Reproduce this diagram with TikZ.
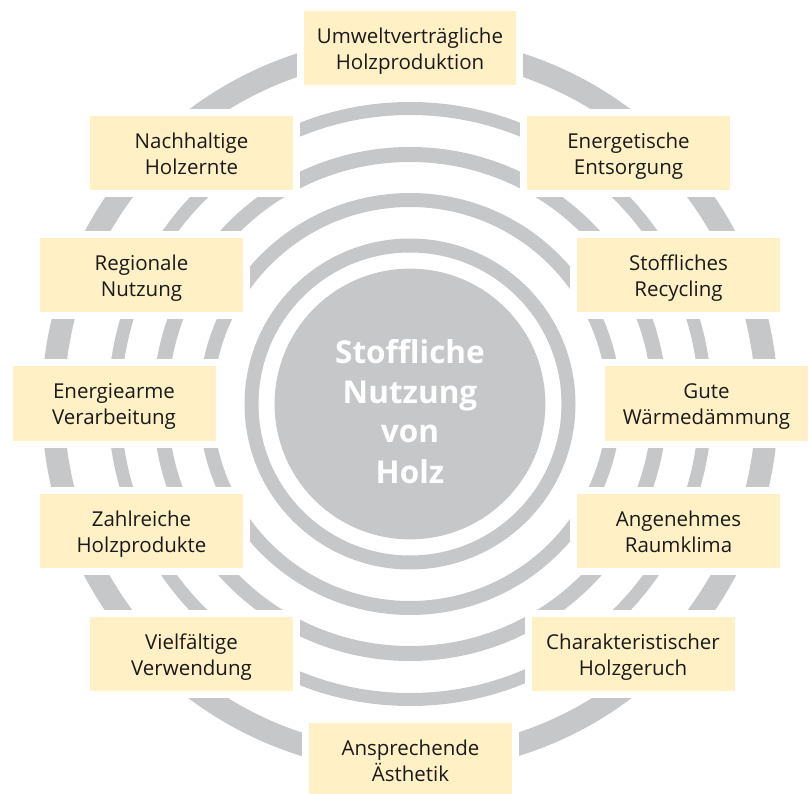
\documentclass[tikz,border=0pt]{standalone}
\usepackage{fontspec}
\setmainfont{Open Sans}
\usepackage{tikz}

\definecolor{ringgray}{RGB}{198,199,201}
\definecolor{boxyellow}{RGB}{255,240,197}
\definecolor{textblack}{RGB}{26,26,26}

\begin{document}
\begin{tikzpicture}[x=1pt,y=-1pt,
            ring/.style={draw=ringgray,line width=#1},
            hub/.style={circle,fill=ringgray,minimum size=226pt,inner sep=0pt,text=white,
              align=center,text width=220pt,text height=38pt,text depth=120pt,
              font=\fontsize{31.5}{40}\selectfont\bfseries},
            box/.style={fill=boxyellow,text=textblack,minimum width=203pt,minimum height=74pt,
              inner sep=0pt,align=center,text width=200pt,text height=17pt,text depth=26pt,
              font=\fontsize{20.5}{26}\selectfont,preaction={draw=white,line width=14pt}}
          ]
          \useasboundingbox (0,0) rectangle (809,794);

          %centre
          \node[hub] (hub) at (410,404) {Stoffliche\\Nutzung\\von\\Holz};

          %rings
          \draw[ring=14pt] (hub) circle[radius=158.5pt];
          \draw[ring=14pt] (hub) circle[radius=204pt];
          \draw[ring=15pt] (hub) circle[radius=249.5pt];
          \draw[ring=13pt] (hub) circle[radius=295.5pt];
          \draw[ring=22.5pt] (hub) circle[radius=357pt];

          %boxes, left column
          \node[box,minimum width=212pt] (umwelt) at (410,48) {Umweltverträgliche\\Holzproduktion};
          \node[box] (ernte) at (191.5,153) {Nachhaltige\\Holzernte};
          \node[box] (regional) at (141.5,275.5) {Regionale\\Nutzung};
          \node[box] (verarb) at (114,403.5) {Energiearme\\Verarbeitung};
          \node[box] (produkte) at (141.5,530.5) {Zahlreiche\\Holzprodukte};
          \node[box] (verwend) at (191.5,653.5) {Vielfältige\\Verwendung};
          \node[box] (aesthetik) at (410.5,760) {Ansprechende\\Ästhetik};

          %boxes, right column
          \node[box] (entsorg) at (628.5,153) {Energetische\\Entsorgung};
          \node[box] (recycl) at (678.5,275.5) {Stoffliches\\Recycling};
          \node[box] (daemm) at (706.5,403.5) {Gute\\Wärmedämmung};
          \node[box] (klima) at (678.5,530.5) {Angenehmes\\Raumklima};
          \node[box] (geruch) at (633,653.5) {Charakteristischer\\Holzgeruch};

      \end{tikzpicture}
\end{document}
